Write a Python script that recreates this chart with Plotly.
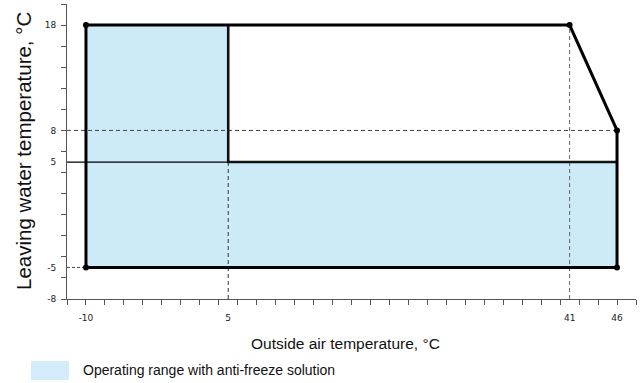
import plotly.graph_objects as go

# ---- data ----
x_tick_vals = [-10, 5, 41, 46]
x_tick_text = ["-10", "5", "41", "46"]
y_tick_vals = [-8, -5, 5, 8, 18]
y_tick_text = ["-8", "-5", "5", "8", "18"]

# anti-freeze regions (blue)
af_left_x = [-10, 5, 5, -10]
af_left_y = [-5, -5, 18, 18]
af_bottom_x = [5, 46, 46, 5]
af_bottom_y = [-5, -5, 5, 5]

# outer operating boundary
outer_x = [-10, -10, 41, 46, 46, -10]
outer_y = [-5, 18, 18, 8, -5, -5]
# inner boundary (water without anti-freeze lower limit)
inner_x = [5, 5, 46]
inner_y = [18, 5, 5]
corner_x = [-10, 41, 46, -10, 46]
corner_y = [18, 18, 8, -5, -5]

X_MIN, X_MAX = -12, 48
Y_MIN, Y_MAX = -8, 20

BLUE = "#cdeaf7"
fig = go.Figure()

fig.add_trace(go.Scatter(x=af_left_x, y=af_left_y, fill="toself", fillcolor=BLUE,
                         line=dict(width=0), mode="lines", hoverinfo="skip", showlegend=False))
fig.add_trace(go.Scatter(x=af_bottom_x, y=af_bottom_y, fill="toself", fillcolor=BLUE,
                         line=dict(width=0), mode="lines", hoverinfo="skip", showlegend=False))

# reference lines
fig.add_trace(go.Scatter(x=[X_MIN, 46], y=[8, 8], mode="lines",
                         line=dict(color="#444", width=1, dash="4px,3px"), showlegend=False))
fig.add_trace(go.Scatter(x=[X_MIN, -10], y=[-5, -5], mode="lines",
                         line=dict(color="#444", width=1, dash="3px,2px"), showlegend=False))
fig.add_trace(go.Scatter(x=[X_MIN, 5], y=[5, 5], mode="lines",
                         line=dict(color="#000", width=1.3), showlegend=False))
fig.add_trace(go.Scatter(x=[5, 5], y=[Y_MIN, 5], mode="lines",
                         line=dict(color="#333", width=1, dash="4px,3px"), showlegend=False))
fig.add_trace(go.Scatter(x=[41, 41], y=[Y_MIN, 18], mode="lines",
                         line=dict(color="#666", width=1, dash="4px,3px"), showlegend=False))

# boundaries
fig.add_trace(go.Scatter(x=inner_x, y=inner_y, mode="lines",
                         line=dict(color="#111", width=2.6), showlegend=False))
fig.add_trace(go.Scatter(x=outer_x, y=outer_y, mode="lines",
                         line=dict(color="#000", width=3), showlegend=False))
fig.add_trace(go.Scatter(x=corner_x, y=corner_y, mode="markers",
                         marker=dict(color="#000", size=6), showlegend=False))

PL, PR, PT, PB = 67, 636, 4, 299
W, H = 640, 383
def px(x):
    return (x - PL) / (PR - PL)
def py(y):
    return (PB - y) / (PB - PT)

tickfont = dict(family="DejaVu Sans", size=9, color="#222")
fig.update_layout(
    width=W, height=H,
    margin=dict(l=PL, r=W - PR, t=PT, b=H - PB, autoexpand=False),
    plot_bgcolor="white", paper_bgcolor="white",
    showlegend=False,
    xaxis=dict(range=[X_MIN, X_MAX], tickmode="array", tickvals=x_tick_vals, ticktext=x_tick_text,
               ticks="outside", ticklen=0, tickfont=tickfont, ticklabelstandoff=10, automargin=False,
               showgrid=False, zeroline=False, showline=True, linecolor="#555", linewidth=1,
               minor=dict(tickmode="array", tickvals=list(range(X_MIN, X_MAX + 1, 2)),
                          ticks="outside", ticklen=5, tickcolor="#555", tickwidth=1, showgrid=False)),
    yaxis=dict(range=[Y_MIN, Y_MAX], tickmode="array", tickvals=y_tick_vals, ticktext=y_tick_text,
               ticks="outside", ticklen=0, tickfont=tickfont, ticklabelstandoff=8, automargin=False,
               showgrid=False, zeroline=False, showline=True, linecolor="#555", linewidth=1,
               minor=dict(tickmode="array", tickvals=list(range(Y_MIN, Y_MAX + 1, 2)),
                          ticks="outside", ticklen=5, tickcolor="#555", tickwidth=1, showgrid=False)),
    font=dict(family="Liberation Sans", color="#111"),
)

fig.add_annotation(text="Outside air temperature, °C", xref="paper", yref="paper",
                   x=px(345), y=py(343), showarrow=False, font=dict(size=15.5),
                   xanchor="center", yanchor="middle")
fig.add_annotation(text="Leaving water temperature, °C", xref="paper", yref="paper",
                   x=px(23), y=py(151), showarrow=False, font=dict(size=20.5),
                   textangle=-90, xanchor="center", yanchor="middle")
fig.add_shape(type="rect", xref="paper", yref="paper",
              x0=px(31), x1=px(69), y0=py(380), y1=py(361),
              fillcolor="#d4ebf9", line=dict(width=0))
fig.add_annotation(text="Operating range with anti-freeze solution", xref="paper", yref="paper",
                   x=px(81), y=py(370), showarrow=False, font=dict(size=14),
                   xanchor="left", yanchor="middle")

fig.write_html("out.html", config={"displayModeBar": False},
               post_script="document.body.style.margin='0';document.body.style.overflow='hidden';")
